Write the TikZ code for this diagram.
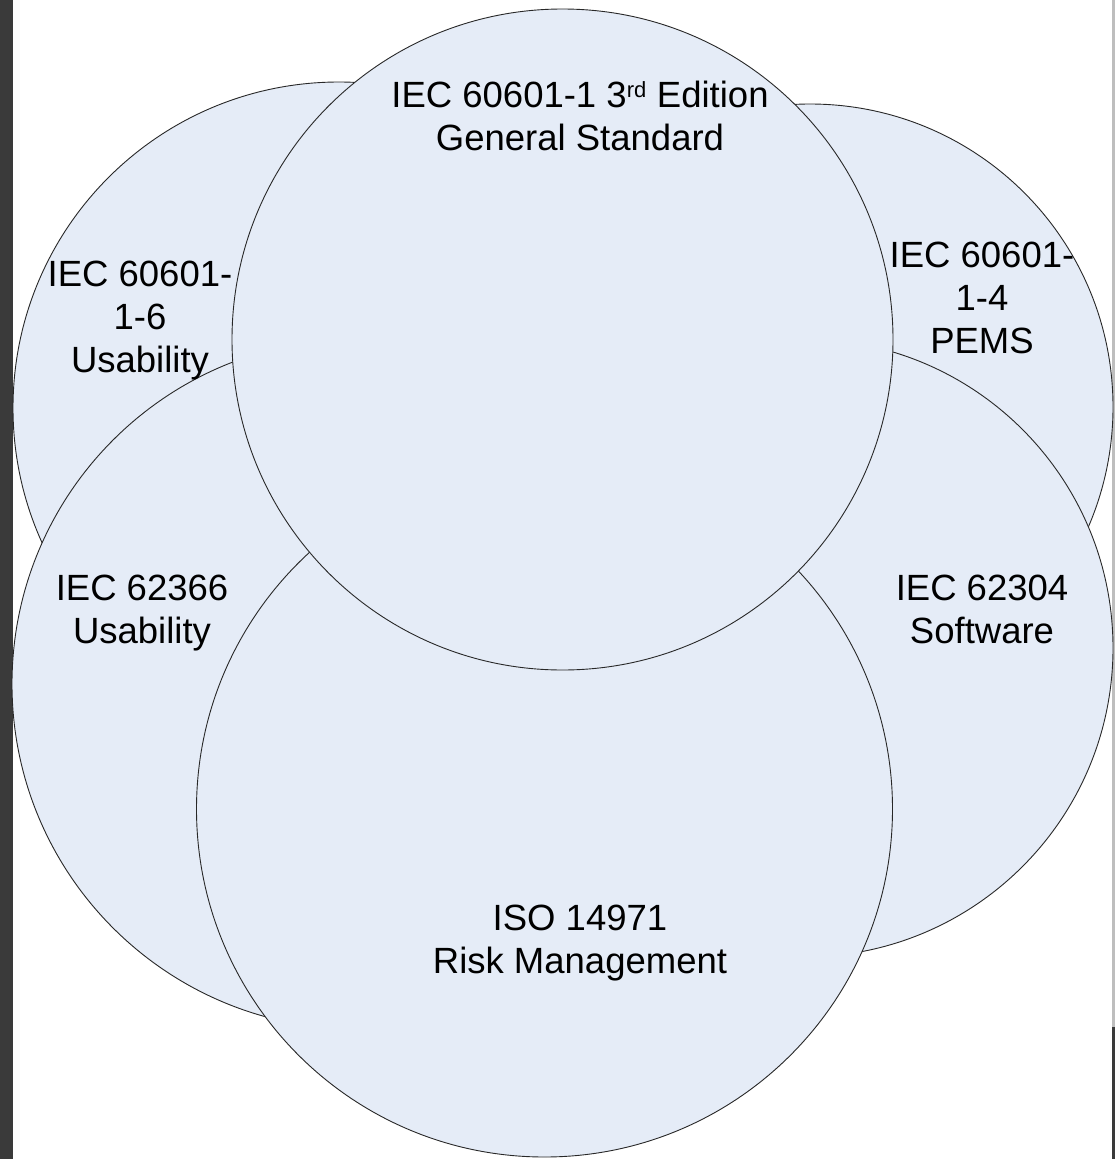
\documentclass[tikz,border=0pt]{standalone}
\usepackage{fontspec}
\setmainfont{Liberation Sans}
\definecolor{setfill}{RGB}{229,236,247}
\definecolor{setline}{RGB}{40,40,40}
\definecolor{frameL}{RGB}{58,58,58}
\definecolor{frameR}{RGB}{190,190,190}
\begin{document}
\begin{tikzpicture}[x=1pt,y=-1pt,
  setcircle/.style={circle,draw=setline,line width=0.9pt,fill=setfill,inner sep=0pt},
  % anchor=base sits on the last line of a multi-line label
  setlabel/.style={align=center,inner sep=0pt,anchor=base,text=black,
    font=\fontsize{36.5}{43}\selectfont}]
\useasboundingbox (0,0) rectangle (1115,1159);
\fill[white] (0,0) rectangle (1115,1159);
% window frame strips
\fill[frameL] (0,0) rectangle (13,1159);
\fill[frameR] (1112,0) rectangle (1115,1027);
\fill[frameL] (1112,1027) rectangle (1115,1159);

% sets, back to front
\node[setcircle,minimum size=652pt] (usa) at (339,408) {};
\node[setcircle,minimum size=606pt] (pems) at (810,407) {};
\node[setcircle,minimum size=690pt] (hfe) at (357,684) {};
\node[setcircle,minimum size=618pt] (sw) at (804,648) {};
\node[setcircle,minimum size=696pt] (risk) at (544.5,809) {};
\node[setcircle,minimum size=661pt] (gen) at (562.5,339.5) {};

% labels
\node[setlabel] (genL) at (580,150) {IEC 60601-1 3\textsuperscript{\fontsize{22}{22}\selectfont rd} Edition\\General Standard};
\node[setlabel] (usaL) at (140,372) {IEC 60601-\\1-6\\Usability};
\node[setlabel] (pemsL) at (982,353) {IEC 60601-\\1-4\\PEMS};
\node[setlabel] (hfeL) at (142,643) {IEC 62366\\Usability};
\node[setlabel] (swL) at (982,643) {IEC 62304\\Software};
\node[setlabel] (riskL) at (580,973) {ISO 14971\\Risk Management};
\end{tikzpicture}
\end{document}
